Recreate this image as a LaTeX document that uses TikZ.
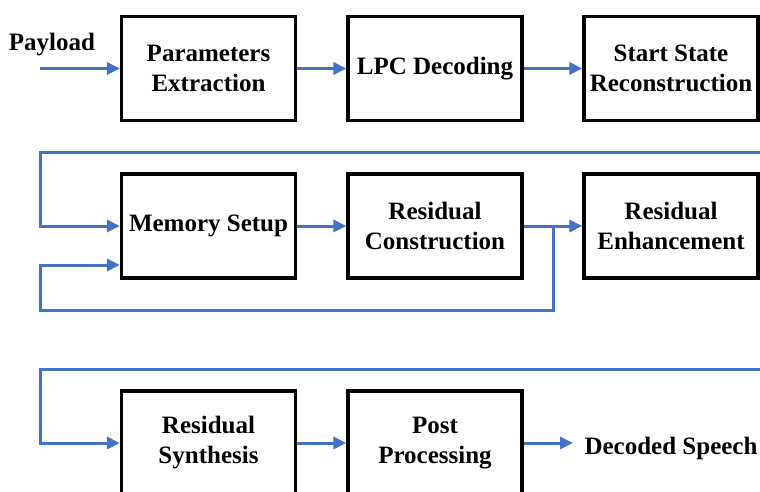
\documentclass[tikz,border=0pt]{standalone}
\usepackage{fontspec}
\setmainfont{Liberation Serif}
\usetikzlibrary{arrows.meta}
\definecolor{flowblue}{HTML}{4472C4}
\tikzset{
  x=1pt, y=-1pt,
  block/.style={draw=black, line width=3.2pt, fill=white, minimum width=174pt,
    minimum height=104pt, align=center, inner sep=0pt,
    font=\fontsize{25}{30}\selectfont\bfseries},
  lbl/.style={inner sep=0pt, font=\fontsize{25}{30}\selectfont\bfseries},
  flow/.style={draw=flowblue, line width=3pt,
    -{Triangle[length=13pt,width=12pt]}},
  wire/.style={draw=flowblue, line width=3pt},
}
\begin{document}
\begin{tikzpicture}
\useasboundingbox (0,0) rectangle (760,492);
\clip (0,0) rectangle (760,492);

% row 1
\node[block] (pe)  at (208.5,68.5) {Parameters\\Extraction};
\node[block] (lpc) at (435,68.5)   {LPC Decoding};
\node[block] (ssr) at (671,68.5)   {Start State\\Reconstruction};
\node[lbl] (pay) at (52,45) {Payload};
\coordinate (pin) at (40,68.5);
\coordinate (ssrout) at (790,68.5);

% row 2
\node[block] (mem) at (208.5,226) {Memory Setup};
\node[block] (rc)  at (435,226)   {Residual\\Construction};
\node[block] (re)  at (671,226)   {Residual\\Enhancement};
\coordinate (r2in) at (790,152);
\coordinate (r2l) at (40,152);
\coordinate (fb) at (553,226);
\coordinate (fbd) at (553,310);
\coordinate (fbl) at (40,310);
\coordinate (fbu) at (40,265);
\coordinate (reout) at (790,226);

% row 3
\node[block] (rs) at (208.5,443) {Residual\\Synthesis};
\node[block] (pp) at (435,443)   {Post\\Processing};
\node[lbl] (ds) at (671,448) {Decoded Speech};
\coordinate (r3in) at (790,369);
\coordinate (r3l) at (40,369);
\coordinate (dsin) at (573,443);

% connectors
\draw[flow] (pin) -- (pe.west);
\draw[flow] (pe) -- (lpc);
\draw[flow] (lpc) -- (ssr);
\draw[wire] (ssr.east) -- (ssrout);

\draw[flow] (r2in) -- (r2l) |- (mem.west);
\draw[flow] (mem) -- (rc);
\draw[wire] (rc.east) -- (fb);
\draw[flow] (fb) -- (re.west);
\draw[flow] (fb) -- (fbd) -- (fbl) -- (fbu) -- (fbu -| mem.west);
\draw[wire] (re.east) -- (reout);

\draw[flow] (r3in) -- (r3l) |- (rs.west);
\draw[flow] (rs) -- (pp);
\draw[flow] (pp.east) -- (dsin);
\end{tikzpicture}
\end{document}
